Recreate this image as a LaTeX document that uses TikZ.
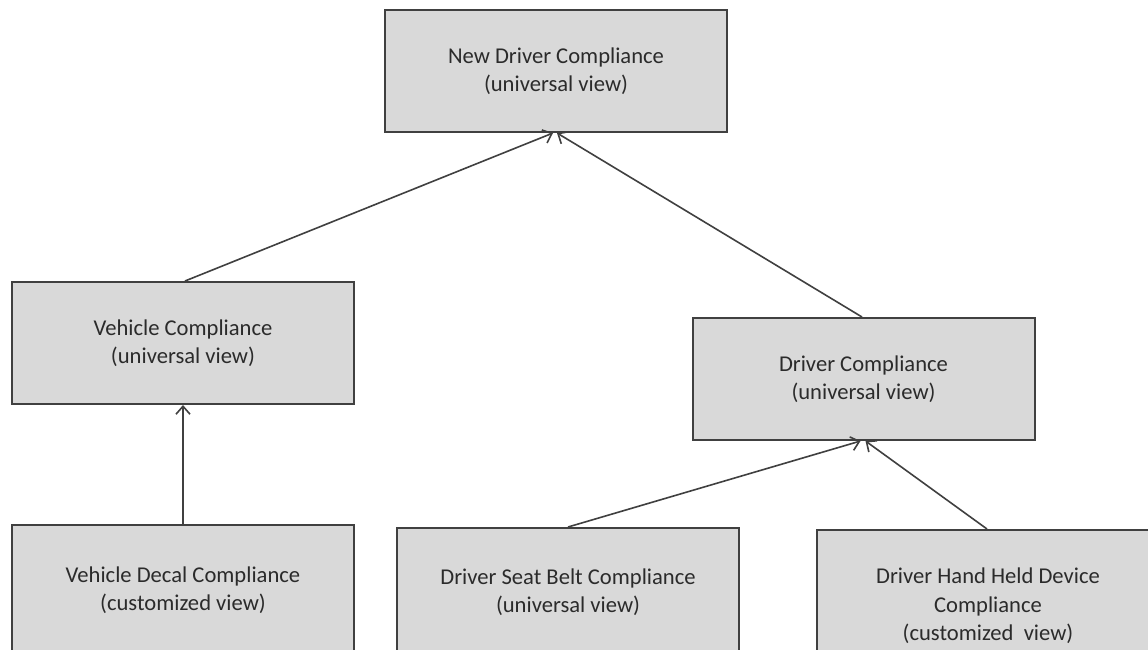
\documentclass[tikz,border=0pt]{standalone}
\usepackage{fontspec}
\setmainfont{Carlito}
\usetikzlibrary{arrows.meta}
\definecolor{boxfill}{HTML}{D9D9D9}
\definecolor{boxline}{HTML}{404040}
\definecolor{txt}{HTML}{2B2B2B}
\tikzset{
  cbox/.style={draw=boxline, line width=2pt, fill=boxfill, text=txt,
    minimum width=342pt, minimum height=122pt, align=center, inner sep=0pt,
    font=\fontsize{22.6}{28.5}\selectfont},
  link/.style={draw=boxline, line width=1.6pt,
    -{Straight Barb[length=8pt,width=14pt,line width=1.6pt]}}
}
\begin{document}
\begin{tikzpicture}[x=1pt,y=-1pt]
\useasboundingbox (0,0) rectangle (1148,649);
\fill[white] (0,0) rectangle (1148,649);
\clip (0,0) rectangle (1148,649);
\node[cbox] (top) at (556,71) {New Driver Compliance\\(universal view)};
\node[cbox] (veh) at (183,343) {Vehicle Compliance\\(universal view)};
\node[cbox] (drv) at (863.5,379) {Driver Compliance\\(universal view)};
\node[cbox, minimum height=130pt] (decal) at (183,590) {Vehicle Decal Compliance\\(customized view)};
\node[cbox, minimum height=128pt] (belt) at (568,592) {Driver Seat Belt Compliance\\(universal view)};
\node[cbox, minimum height=152pt] (hand) at (988,606) {Driver Hand Held Device\\Compliance\\(customized\ \ view)};
\draw[link] ([xshift=2pt]veh.north) -- ([xshift=-3pt]top.south);
\draw[link] ([xshift=-1.5pt]drv.north) -- ([xshift=1pt]top.south);
\draw[link] (decal.north) -- (veh.south);
\draw[link] (belt.north) -- ([xshift=-3pt]drv.south);
\draw[link] ([xshift=-1pt]hand.north) -- ([xshift=2pt]drv.south);
\end{tikzpicture}
\end{document}
